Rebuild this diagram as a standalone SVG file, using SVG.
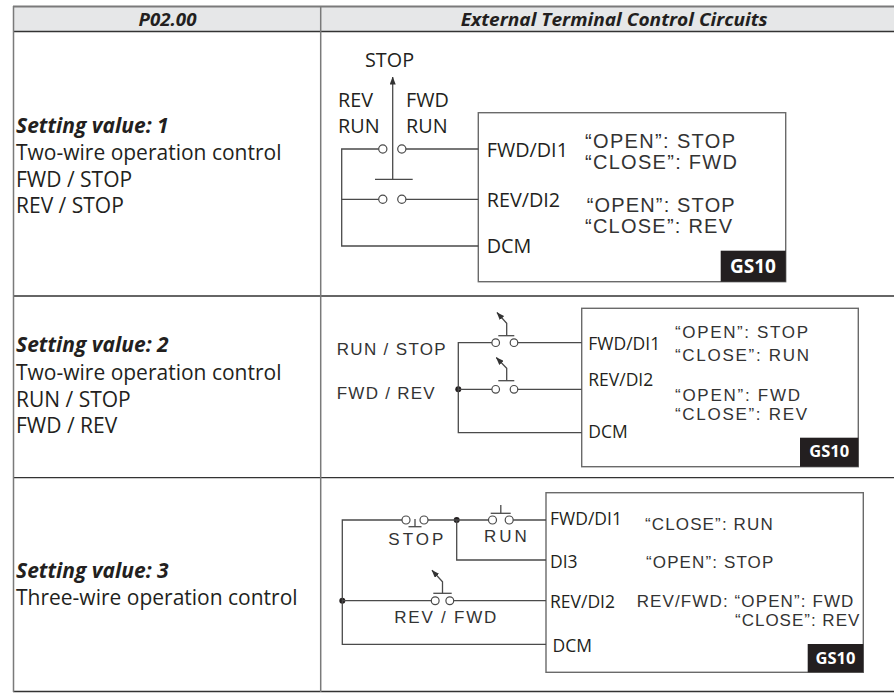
<svg xmlns="http://www.w3.org/2000/svg" width="894" height="693" viewBox="0 0 894 693">
<defs>
<marker id="arr" markerUnits="userSpaceOnUse" markerWidth="8" markerHeight="6" refX="7.5" refY="3" orient="auto"><path d="M0,0 L8,3 L0,6 z" fill="#333"/></marker>
</defs>
<style>
.grid{stroke:#333;stroke-width:1.3;fill:none}
.gridl{stroke:#7a7a7a;stroke-width:1.5;fill:none}
.w{stroke:#4a4a4a;stroke-width:1.3;fill:none}
.c{stroke:#4a4a4a;stroke-width:1.2;fill:#fff}
.dot{fill:#231f20}
.box{stroke:#6a6a6a;stroke-width:1.4;fill:#fff}
.tag{fill:#231f20}
.tagt{font-family:"Open Sans",sans-serif;font-weight:bold;fill:#fff;text-anchor:middle}
.hd{font-family:"Open Sans",sans-serif;font-weight:bold;font-style:italic;font-size:18px;fill:#231f20}
.sv{font-family:"Open Sans",sans-serif;font-weight:bold;font-style:italic;font-size:21px;fill:#231f20}
.tx{font-family:"Open Sans",sans-serif;font-size:21px;fill:#231f20}
.m1{font-family:"Open Sans",sans-serif;font-size:19.8px;fill:#231f20}
.m2{font-family:"Open Sans",sans-serif;font-size:17.5px;fill:#231f20}
.a1{font-family:"Liberation Sans",Arial,sans-serif;font-size:20px;fill:#333}
.a2{font-family:"Liberation Sans",Arial,sans-serif;font-size:17px;fill:#333}
</style>
<rect x="0" y="0" width="894" height="693" fill="#fff"/>
<g id="table">
<rect x="13" y="6" width="881" height="25.5" fill="#e6e7e8"/>
<line class="gridl" x1="13" y1="6.5" x2="894" y2="6.5" style="stroke-width:2"/>
<line class="grid" x1="13" y1="31.5" x2="894" y2="31.5"/>
<line class="grid" x1="13" y1="296" x2="894" y2="296"/>
<line class="grid" x1="13" y1="477.7" x2="894" y2="477.7"/>
<line class="grid" x1="13" y1="691.5" x2="894" y2="691.5"/>
<line class="gridl" x1="13.5" y1="6" x2="13.5" y2="692"/>
<line class="gridl" x1="320.7" y1="6" x2="320.7" y2="692"/>
<text class="hd" x="138.5" y="26" textLength="58" lengthAdjust="spacingAndGlyphs">P02.00</text>
<text class="hd" x="460.7" y="26" textLength="307" lengthAdjust="spacingAndGlyphs">External Terminal Control Circuits</text>
</g>
<g id="desc1">
<text class="sv" x="16" y="133">Setting value: 1</text>
<text class="tx" x="16" y="160">Two-wire operation control</text>
<text class="tx" x="16" y="187">FWD / STOP</text>
<text class="tx" x="16" y="213">REV / STOP</text>
</g>
<g id="desc2">
<text class="sv" x="16" y="352">Setting value: 2</text>
<text class="tx" x="16" y="380">Two-wire operation control</text>
<text class="tx" x="16" y="407">RUN / STOP</text>
<text class="tx" x="16" y="433">FWD / REV</text>
</g>
<g id="desc3">
<text class="sv" x="16" y="578">Setting value: 3</text>
<text class="tx" x="16" y="605">Three-wire operation control</text>
</g>
<g id="gs10-1">
<rect class="box" x="478.3" y="112.7" width="307.4" height="169"/>
<rect class="tag" x="720.7" y="250.7" width="65" height="31"/>
<text class="tagt" x="753" y="273" style="font-size:19px">GS10</text>
<text class="m1" x="486.7" y="156.7">FWD/DI1</text>
<text class="m1" x="486.7" y="206.7">REV/DI2</text>
<text class="m1" x="486.7" y="253.3">DCM</text>
<text class="a1" x="585" y="148" textLength="150" lengthAdjust="spacing">“OPEN”: STOP</text>
<text class="a1" x="585" y="169" textLength="152" lengthAdjust="spacing">“CLOSE”: FWD</text>
<text class="a1" x="586.7" y="212" textLength="148" lengthAdjust="spacing">“OPEN”: STOP</text>
<text class="a1" x="585" y="233.3" textLength="147" lengthAdjust="spacing">“CLOSE”: REV</text>
</g>
<g id="switch-1">
<text class="m1" x="365" y="66.7">STOP</text>
<text class="m1" x="338" y="106.7">REV</text>
<text class="m1" x="338" y="133.3">RUN</text>
<text class="m1" x="406" y="106.7">FWD</text>
<text class="m1" x="406" y="133.3">RUN</text>
<circle class="c" cx="382.8" cy="149" r="4.1"/>
<circle class="c" cx="401.8" cy="149" r="4.1"/>
<circle class="c" cx="382.8" cy="199.3" r="4.1"/>
<circle class="c" cx="401.8" cy="199.3" r="4.1"/>
<line class="w" x1="375" y1="179.3" x2="412.7" y2="179.3"/>
<line class="w" x1="392.7" y1="179.3" x2="392.7" y2="77" marker-end="url(#arr)"/>
</g>
<g id="gs10-2">
<rect class="box" x="581.7" y="308.3" width="276.6" height="158.4"/>
<rect class="tag" x="800" y="437.7" width="58.3" height="29"/>
<text class="tagt" x="829.2" y="457" style="font-size:16.5px">GS10</text>
<text class="m2" x="588.3" y="350">FWD/DI1</text>
<text class="m2" x="588.3" y="386">REV/DI2</text>
<text class="m2" x="588.3" y="438.3">DCM</text>
<text class="a2" x="675" y="338.3" textLength="133" lengthAdjust="spacing">“OPEN”: STOP</text>
<text class="a2" x="675" y="361" textLength="134" lengthAdjust="spacing">“CLOSE”: RUN</text>
<text class="a2" x="675" y="401" textLength="125" lengthAdjust="spacing">“OPEN”: FWD</text>
<text class="a2" x="675" y="420" textLength="132" lengthAdjust="spacing">“CLOSE”: REV</text>
</g>
<g id="switch-2">
<text class="a2" x="336.7" y="355" textLength="109" lengthAdjust="spacing">RUN / STOP</text>
<text class="a2" x="336.7" y="399.3" textLength="98" lengthAdjust="spacing">FWD / REV</text>
<circle class="c" cx="495.7" cy="342.7" r="3.8"/>
<circle class="c" cx="514" cy="342.7" r="3.8"/>
<line class="w" x1="498.3" y1="335.7" x2="514.3" y2="335.7"/>
<polyline class="w" points="506.7,335.7 506.7,323.3 497,312.5" marker-end="url(#arr)"/>
<circle class="c" cx="495.7" cy="389.3" r="3.8"/>
<circle class="c" cx="514" cy="389.3" r="3.8"/>
<line class="w" x1="498.3" y1="380.7" x2="514.3" y2="380.7"/>
<polyline class="w" points="506.7,380.7 506.7,368.3 496.3,357.5" marker-end="url(#arr)"/>
<circle class="dot" cx="458.3" cy="389.3" r="3"/>
</g>
<g id="gs10-3">
<rect class="box" x="546" y="492.7" width="317.3" height="179.6"/>
<rect class="tag" x="807.7" y="644" width="55.6" height="28.3"/>
<text class="tagt" x="835.5" y="663.5" style="font-size:16.5px">GS10</text>
<text class="m2" x="550" y="525">FWD/DI1</text>
<text class="m2" x="550" y="568.3">DI3</text>
<text class="m2" x="550" y="608.3">REV/DI2</text>
<text class="m2" x="552.5" y="651.7">DCM</text>
<text class="a2" x="645" y="530" textLength="127.7" lengthAdjust="spacing">“CLOSE”: RUN</text>
<text class="a2" x="646" y="568.3" textLength="127.3" lengthAdjust="spacing">“OPEN”: STOP</text>
<text class="a2" x="636.7" y="606.7" textLength="216.7" lengthAdjust="spacing">REV/FWD: “OPEN”: FWD</text>
<text class="a2" x="735" y="626" textLength="124.3" lengthAdjust="spacing">“CLOSE”: REV</text>
</g>
<g id="switch-3">
<text class="a2" x="388.3" y="545" textLength="55" lengthAdjust="spacing">STOP</text>
<text class="a2" x="484" y="541.7" textLength="42.7" lengthAdjust="spacing">RUN</text>
<text class="a2" x="394.3" y="623.3" textLength="102" lengthAdjust="spacing">REV / FWD</text>
<circle class="c" cx="406" cy="520" r="4"/>
<circle class="c" cx="424" cy="520" r="4"/>
<line class="w" x1="408.5" y1="526.7" x2="421.5" y2="526.7"/>
<line class="w" x1="415" y1="519" x2="415" y2="526.7"/>
<circle class="c" cx="492.5" cy="520" r="4"/>
<circle class="c" cx="509.2" cy="520" r="4"/>
<line class="w" x1="490.7" y1="513.3" x2="510.7" y2="513.3"/>
<line class="w" x1="500.8" y1="513.3" x2="500.8" y2="505"/>
<circle class="c" cx="435.2" cy="600.7" r="3.9"/>
<circle class="c" cx="449.8" cy="600.7" r="3.9"/>
<line class="w" x1="433.3" y1="593.3" x2="451.7" y2="593.3"/>
<polyline class="w" points="442.5,593.3 442.5,581.7 432,570.3" marker-end="url(#arr)"/>
<circle class="dot" cx="456.7" cy="520" r="3"/>
<circle class="dot" cx="342.3" cy="600.7" r="3"/>
</g>
<g id="connectors">
<polyline class="w" points="378.7,149 341.7,149 341.7,246 478.3,246"/>
<line class="w" x1="405.9" y1="149" x2="478.3" y2="149"/>
<line class="w" x1="341.7" y1="199.3" x2="378.7" y2="199.3"/>
<line class="w" x1="405.9" y1="199.3" x2="478.3" y2="199.3"/>
<polyline class="w" points="491.9,342.7 458.3,342.7 458.3,432.7 581.7,432.7"/>
<line class="w" x1="517.8" y1="342.7" x2="581.7" y2="342.7"/>
<line class="w" x1="458.3" y1="389.3" x2="491.9" y2="389.3"/>
<line class="w" x1="517.8" y1="389.3" x2="581.7" y2="389.3"/>
<polyline class="w" points="402,520 342.3,520 342.3,644.3 546,644.3"/>
<line class="w" x1="428" y1="520" x2="488.5" y2="520"/>
<line class="w" x1="513.2" y1="520" x2="546" y2="520"/>
<polyline class="w" points="456.7,520 456.7,560 546,560"/>
<line class="w" x1="342.3" y1="600.7" x2="431.3" y2="600.7"/>
<line class="w" x1="453.7" y1="600.7" x2="546" y2="600.7"/>
</g>
</svg>
